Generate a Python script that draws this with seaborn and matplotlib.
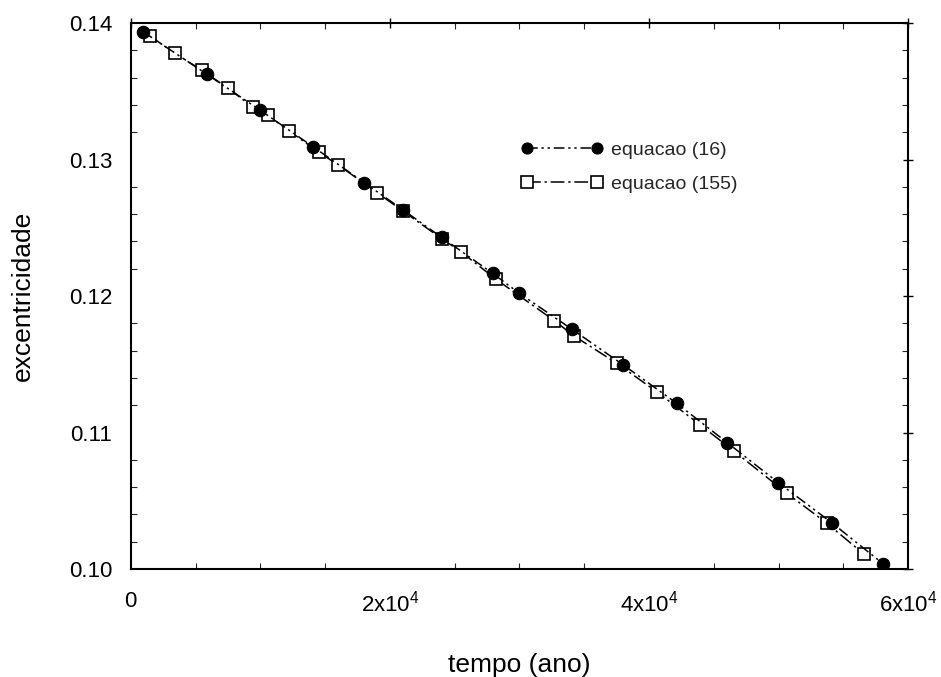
import matplotlib
matplotlib.use("Agg")
import matplotlib.pyplot as plt
import seaborn as sns
import numpy as np
import pandas as pd
from matplotlib.ticker import MultipleLocator, FixedLocator, FixedFormatter

# data
t16 = [950, 5850, 9960, 14050, 18020, 21030, 23990, 27930, 29990, 34030,
       38020, 42140, 46050, 49990, 54110, 58090]
e16 = [0.13936, 0.13626, 0.13363, 0.13095, 0.12830, 0.12630, 0.12430, 0.12166,
       0.12020, 0.11758, 0.11495, 0.11214, 0.10925, 0.10632, 0.10339, 0.10037]

t155 = [1470, 3400, 5460, 7510, 9440, 10560, 12200, 14520, 16010, 19020,
        21000, 24000, 25480, 28190, 32690, 34190, 37500, 40640, 43940, 46590,
        50630, 53720, 56600]
e155 = [0.13905, 0.13778, 0.13656, 0.13522, 0.13382, 0.13326, 0.13211, 0.13053,
        0.12960, 0.12757, 0.12623, 0.12420, 0.12324, 0.12123, 0.11820, 0.11709,
        0.11508, 0.11296, 0.11057, 0.10862, 0.10556, 0.10336, 0.10109]

label16 = "equacao (16)"
label155 = "equacao (155)"
xticks = [0, 20000, 40000, 60000]
xticklabels = ["0", r"2x10$^{4}$", r"4x10$^{4}$", r"6x10$^{4}$"]
yticks = [0.10, 0.11, 0.12, 0.13, 0.14]
yticklabels = ["0.10", "0.11", "0.12", "0.13", "0.14"]

sns.set_theme(style="white")
plt.rcParams['font.family'] = ['Liberation Sans', 'DejaVu Sans']
plt.rcParams['mathtext.fontset'] = 'custom'
plt.rcParams['mathtext.rm'] = 'Liberation Sans'
plt.rcParams['mathtext.it'] = 'Liberation Sans'

fig = plt.figure(figsize=(9.41, 6.77), dpi=100)
ax = fig.add_axes([0.139, 0.1595, 0.826, 0.8065])

df155 = pd.DataFrame({"t": t155, "e": e155})
df16 = pd.DataFrame({"t": t16, "e": e16})

sns.lineplot(data=df155, x="t", y="e", ax=ax, color="black", sort=False,
             linestyle=(0, (9, 2.5, 1.5, 2.5)), linewidth=1.1,
             marker="s", markersize=9, markerfacecolor="white",
             markeredgecolor="black", markeredgewidth=1.2, label=label155, zorder=2)
sns.lineplot(data=df16, x="t", y="e", ax=ax, color="black", sort=False,
             linestyle=(0, (7, 2.5, 1.5, 2.5, 1.5, 2.5)), linewidth=1.1,
             marker="o", markersize=9, markerfacecolor="black",
             markeredgecolor="black", label=label16, zorder=3)

ax.set_xlim(0, 60000)
ax.set_ylim(0.10, 0.14)
ax.xaxis.set_major_locator(FixedLocator(xticks))
ax.xaxis.set_major_formatter(FixedFormatter(xticklabels))
ax.yaxis.set_major_locator(FixedLocator(yticks))
ax.yaxis.set_major_formatter(FixedFormatter(yticklabels))
ax.xaxis.set_minor_locator(MultipleLocator(5000))
ax.yaxis.set_minor_locator(MultipleLocator(0.002))

ax.tick_params(which="major", direction="inout", length=7, width=1.0,
               labelsize=16, top=True, right=True, colors="black")
ax.tick_params(axis="x", which="major", pad=12)
ax.tick_params(axis="y", which="major", pad=10)
ax.tick_params(which="minor", direction="in", length=4, width=0.8,
               top=True, right=True, bottom=True, left=True)
for s in ax.spines.values():
    s.set_color("black")
    s.set_linewidth(1.5)

ax.set_xlabel("tempo (ano)", fontsize=19, labelpad=26, color="black")
ax.set_ylabel("excentricidade", fontsize=19, labelpad=24, color="black")

handles, labels = ax.get_legend_handles_labels()
order = [labels.index(label16), labels.index(label155)]
leg = ax.legend([handles[i] for i in order], [labels[i] for i in order],
                loc="upper left", bbox_to_anchor=(0.48, 0.815), frameon=False,
                fontsize=14, numpoints=2, handlelength=4.2, handletextpad=0.4,
                labelspacing=0.85)
for h in leg.legend_handles:
    h.set_markersize(8)

fig.savefig("out.png", dpi=100, facecolor="white")
